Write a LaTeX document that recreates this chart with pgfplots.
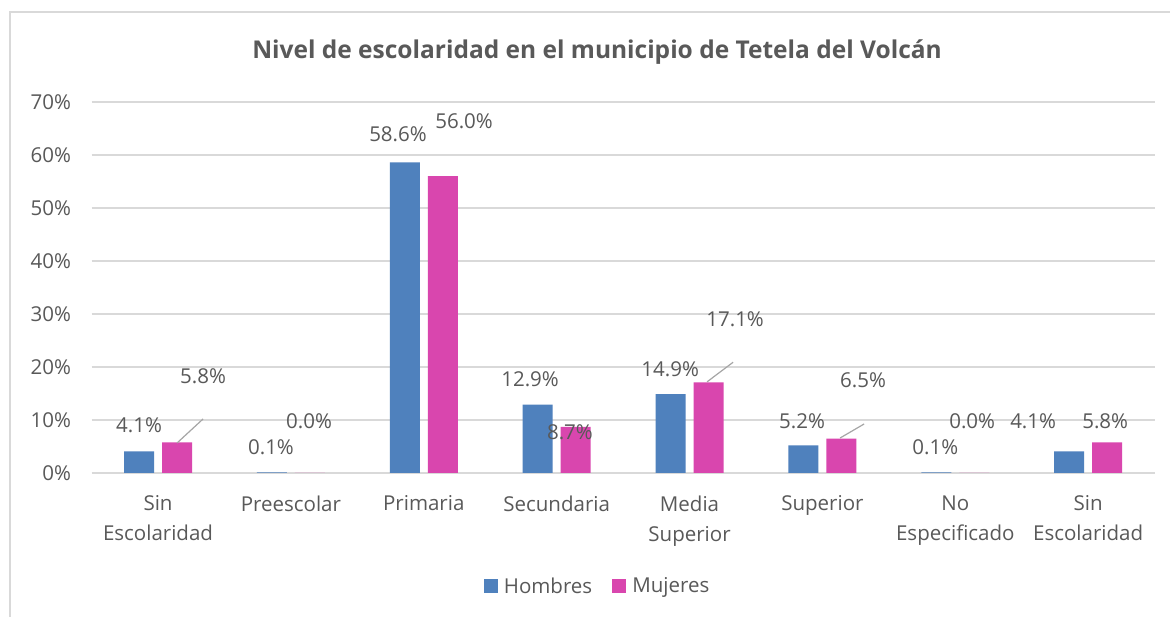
\documentclass[border=0pt]{standalone}
\usepackage{fontspec}
\setmainfont{Open Sans}
\usepackage{pgfplots}
\pgfplotsset{compat=1.18}
\definecolor{hom}{HTML}{4F81BD}
\definecolor{muj}{HTML}{D946AE}
\definecolor{txt}{HTML}{595959}
\definecolor{gridc}{HTML}{D9D9D9}
\definecolor{lead}{HTML}{A6A6A6}
\begin{document}
\begin{tikzpicture}[x=1pt,y=1pt]
\useasboundingbox (0pt,0pt) rectangle (1170pt,617pt);
\fill[white] (0pt,0pt) rectangle (1170pt,617pt);
\draw[gridc, line width=1.5pt] (10pt,-10pt) rectangle (1185pt,605pt);
\node[txt, font=\fontsize{24.5}{28}\selectfont\bfseries] at (597pt,565pt) {Nivel de escolaridad en el municipio de Tetela del Volcán};
\begin{axis}[
  at={(91.6pt,144pt)}, anchor=south west,
  scale only axis, width=1063pt, height=371pt,
  xmin=-0.5, xmax=7.5, ymin=0, ymax=70,
  ytick={0,10,...,70},
  yticklabel={\pgfmathprintnumber{\tick}\%},
  /pgf/number format/assume math mode=true,
  xtick={0,...,7},
  xticklabels={{Sin\\Escolaridad},Preescolar,Primaria,Secundaria,{Media\\Superior},Superior,{No\\Especificado},{Sin\\Escolaridad}},
  xticklabel style={align=center, font=\fontsize{20.5}{30}\selectfont, text=txt, yshift=-19pt},
  yticklabel style={font=\fontsize{20.5}{24}\selectfont, text=txt, xshift=-17pt},
  major tick length=0pt,
  axis line style={draw=none},
  ymajorgrids, grid style={gridc, line width=1.2pt},
  ybar=8pt, bar width=30pt,
  legend style={draw=none, at={(0.476,-0.305)}, anchor=center, legend columns=2,
    font=\fontsize{20.5}{24}\selectfont, text=txt,
    /tikz/every odd column/.append style={column sep=4pt},
    /tikz/every even column/.append style={column sep=18pt}},
  legend image code/.code={\draw[#1,draw=none] (0pt,-7pt) rectangle (14pt,7pt);},
  clip=false,
]
\addplot[fill=hom, draw=none] coordinates {(0,4.1) (1,0.1) (2,58.6) (3,12.9) (4,14.9) (5,5.2) (6,0.1) (7,4.1)};
\addplot[fill=muj, draw=none] coordinates {(0,5.8) (1,0.0) (2,56.0) (3,8.7) (4,17.1) (5,6.5) (6,0.0) (7,5.8)};
\legend{Hombres,Mujeres}
\begin{scope}[every node/.style={text=txt, font=\fontsize{20.5}{24}\selectfont}]
\node at (axis cs:-0.143,9.06) {4.1\%};
\node at (axis cs:0.339,18.3) {5.8\%};
\node at (axis cs:0.85,4.9) {0.1\%};
\node at (axis cs:1.137,9.8) {0.0\%};
\node at (axis cs:1.806,64.0) {58.6\%};
\node at (axis cs:2.303,66.4) {56.0\%};
\node at (axis cs:2.80,17.7) {12.9\%};
\node at (axis cs:3.10,7.7) {8.7\%};
\node at (axis cs:3.854,19.6) {14.9\%};
\node at (axis cs:4.343,29.1) {17.1\%};
\node at (axis cs:4.847,9.8) {5.2\%};
\node at (axis cs:5.306,17.5) {6.5\%};
\node at (axis cs:5.85,4.9) {0.1\%};
\node at (axis cs:6.127,9.8) {0.0\%};
\node at (axis cs:6.586,9.8) {4.1\%};
\node at (axis cs:7.128,9.8) {5.8\%};
\end{scope}
\draw[lead, line width=1.2pt] (axis cs:0.143,5.66) -- (axis cs:0.339,10.2);
\draw[lead, line width=1.2pt] (axis cs:4.132,17.2) -- (axis cs:4.328,20.9);
\draw[lead, line width=1.2pt] (axis cs:5.133,6.6) -- (axis cs:5.314,9.25);
\end{axis}
\end{tikzpicture}
\end{document}
